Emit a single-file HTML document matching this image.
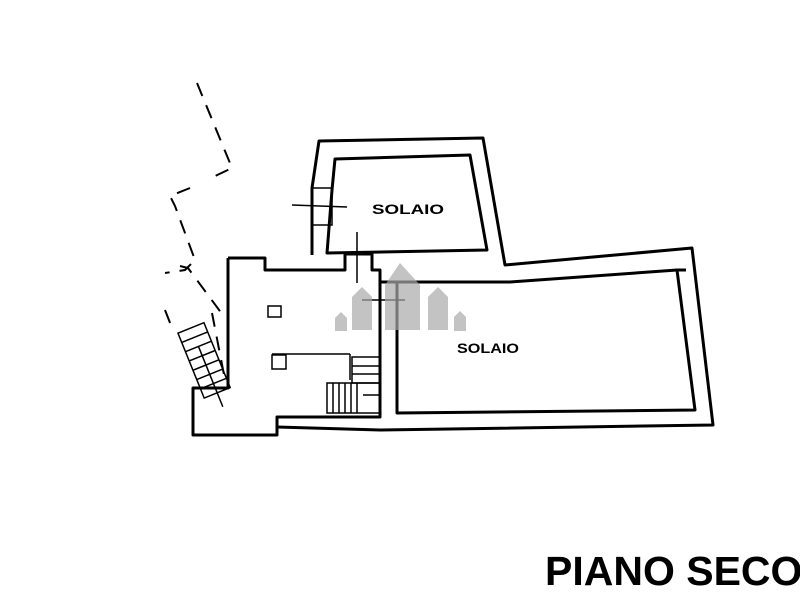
<!DOCTYPE html>
<html><head><meta charset="utf-8"><style>
html,body{margin:0;padding:0;background:#fff;width:800px;height:600px;overflow:hidden}
</style></head><body>
<svg width="800" height="600" viewBox="0 0 800 600" xmlns="http://www.w3.org/2000/svg">
<g fill="none" stroke="#000" stroke-width="3" stroke-linejoin="round">
<polyline points="312,255 312,188 319,141 483,138 505,265 692,248 713,425 380,430 277,427"/>
<polygon points="335,159 470,155 487,250 327,253 332,190"/>
<polyline points="228,258 265,258 265,270 345,270 345,254 372,254 372,270 380,270 380,417 277,417 277,435 193,435 193,388 228,388 228,258"/>
<polyline points="380,282 510,282 677,270 695,410 397,413 397,282"/>
<line x1="677" y1="270" x2="686" y2="270"/>
</g>
<g fill="none" stroke="#000" stroke-width="1.5">
<rect x="312" y="188" width="20" height="37"/>
<line x1="292" y1="205" x2="347" y2="207"/>
<line x1="357" y1="232" x2="357" y2="283"/>
<rect x="268" y="306" width="13" height="11"/>
<rect x="272" y="355" width="14" height="14"/>
<line x1="272" y1="354" x2="350" y2="354"/>
<line x1="350" y1="354" x2="350" y2="380"/>
<line x1="362" y1="300" x2="405" y2="300"/>
<rect x="327" y="383" width="53" height="30"/>
<line x1="333" y1="383" x2="333" y2="413"/><line x1="339" y1="383" x2="339" y2="413"/>
<line x1="345" y1="383" x2="345" y2="413"/><line x1="351" y1="383" x2="351" y2="413"/>
<line x1="357" y1="383" x2="357" y2="413"/><line x1="363" y1="395" x2="380" y2="395"/>
<rect x="352" y="357" width="28" height="26"/>
<line x1="352" y1="366" x2="380" y2="366"/><line x1="352" y1="374" x2="380" y2="374"/>
<g transform="rotate(-22 205 360)">
<rect x="190" y="325" width="28" height="70"/>
<line x1="190" y1="335" x2="218" y2="335"/><line x1="190" y1="345" x2="218" y2="345"/>
<line x1="190" y1="355" x2="218" y2="355"/><line x1="190" y1="365" x2="218" y2="365"/>
<line x1="190" y1="375" x2="218" y2="375"/><line x1="190" y1="385" x2="218" y2="385"/>
<line x1="204" y1="345" x2="204" y2="410"/>
</g>
</g>
<g fill="none" stroke="#000" stroke-width="2" stroke-dasharray="14,10">
<polyline points="197,83 232,168 211,178"/>
<polyline points="190,188 170,196 175,206 195,260 185,270 165,273"/>
<polyline points="180,266 188,268 225,318"/>
<polyline points="165,310 172,328"/>
<polyline points="212,313 225,380"/>
</g>
<g fill="#aaa" opacity="0.7">
<path d="M385,285 L400,263 L420,285 V330 H385Z"/>
<path d="M352,297 L362,287 L372,297 V330 H352Z"/>
<path d="M428,297 L438,287 L448,297 V330 H428Z"/>
<path d="M335,318 L341,312 L347,318 V331 H335Z"/>
<path d="M454,317 L460,311 L466,317 V331 H454Z"/>
</g>
<g font-family="Liberation Sans, sans-serif" font-weight="bold" fill="#000">
<text x="372" y="214" font-size="14" textLength="72" lengthAdjust="spacingAndGlyphs">SOLAIO</text>
<text x="457" y="353" font-size="14" textLength="62" lengthAdjust="spacingAndGlyphs">SOLAIO</text>
<text x="545" y="585" font-size="41">PIANO SECO</text>
</g>
</svg>
</body></html>
